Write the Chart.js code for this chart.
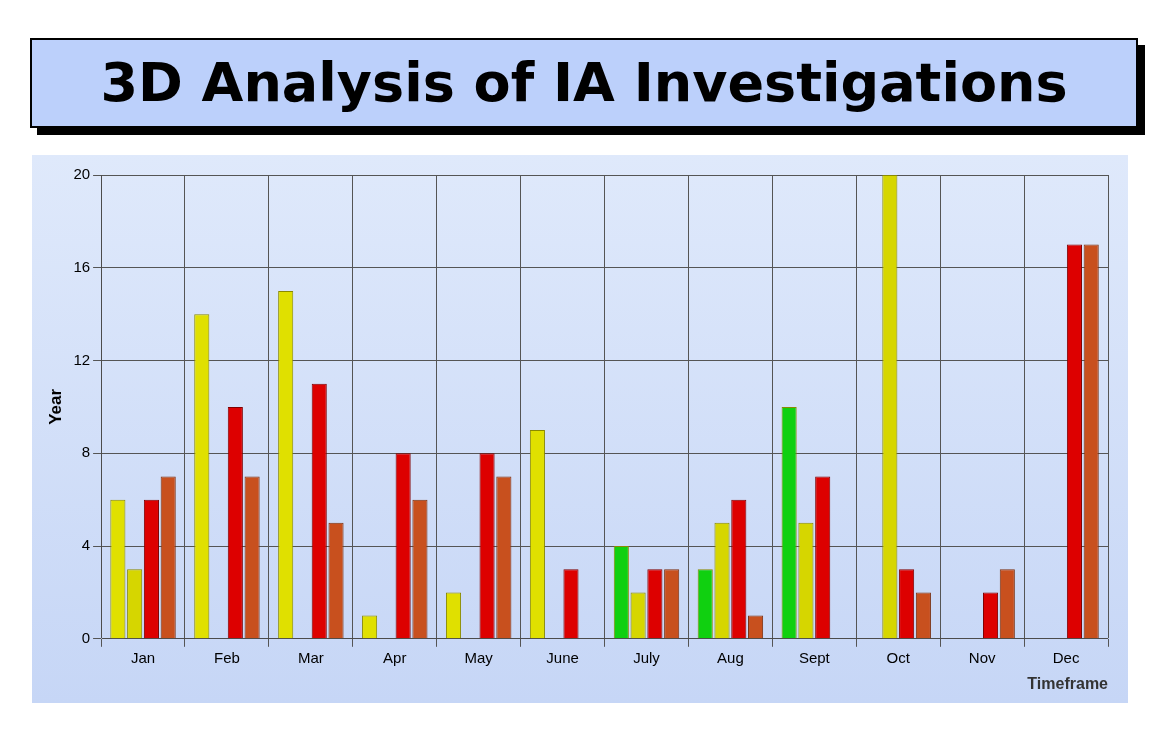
<!DOCTYPE html>
<html><head><meta charset="utf-8">
<script src="https://cdn.jsdelivr.net/npm/chart.js@4"></script>
<style>
body{margin:0;background:#fff;width:1174px;height:742px;position:relative;font-family:"DejaVu Sans",sans-serif}
#title{position:absolute;left:30px;top:38px;width:1104px;height:86px;background:#bcd0fb;border:2px solid #000;box-shadow:7px 7px 0 #000;text-align:center;font:bold 54px "DejaVu Sans",sans-serif;line-height:86px}
#wrap{position:absolute;left:32px;top:155px;width:1096px;height:548px;background:linear-gradient(#dfe9fb,#c6d6f6)}
</style></head><body>
<div id="title">3D Analysis of IA Investigations</div>
<div id="wrap"><canvas id="c"></canvas></div>
<script>
const months=["Jan","Feb","Mar","Apr","May","June","July","Aug","Sept","Oct","Nov","Dec"];
const years=["2017","2018","2019","2020"];
const v2017=[6,14,15,1,2,9,4,3,10,0,0,0];
const v2018=[3,0,0,0,0,0,2,5,5,20,0,0];
const v2019=[6,10,11,8,8,3,3,6,7,3,2,17];
const v2020=[7,7,5,6,7,0,3,1,0,2,3,17];
const yTicks=[0,4,8,12,16,20];
const c2017=v2017.map((v,i)=>(i>=6&&i<=8)?"#10d010":"#e0e000");
new Chart(document.getElementById("c"),{type:"bar",
data:{labels:months,datasets:[
{label:years[0],data:v2017,backgroundColor:c2017,borderColor:"#8a8a00",borderWidth:1},
{label:years[1],data:v2018,backgroundColor:"#d6d600",borderColor:"#8a8a00",borderWidth:1},
{label:years[2],data:v2019,backgroundColor:"#dd0000",borderColor:"#800000",borderWidth:1},
{label:years[3],data:v2020,backgroundColor:"#c8501e",borderColor:"#7a3010",borderWidth:1}]},
options:{responsive:true,maintainAspectRatio:false,animation:false,
layout:{padding:{left:10,right:20,top:20,bottom:5}},
plugins:{legend:{display:false},tooltip:{enabled:false}},
scales:{x:{grid:{color:"#555"},ticks:{color:"#000",font:{size:15}},
title:{display:true,text:"Timeframe",align:"end",color:"#333",font:{size:16,weight:"bold"}}},
y:{min:0,max:20,afterBuildTicks:a=>{a.ticks=yTicks.map(v=>({value:v}))},grid:{color:"#555"},
ticks:{color:"#000",font:{size:15}},title:{display:true,text:"Year",color:"#000",font:{size:17,weight:"bold"}}}}}});
</script></body></html>
